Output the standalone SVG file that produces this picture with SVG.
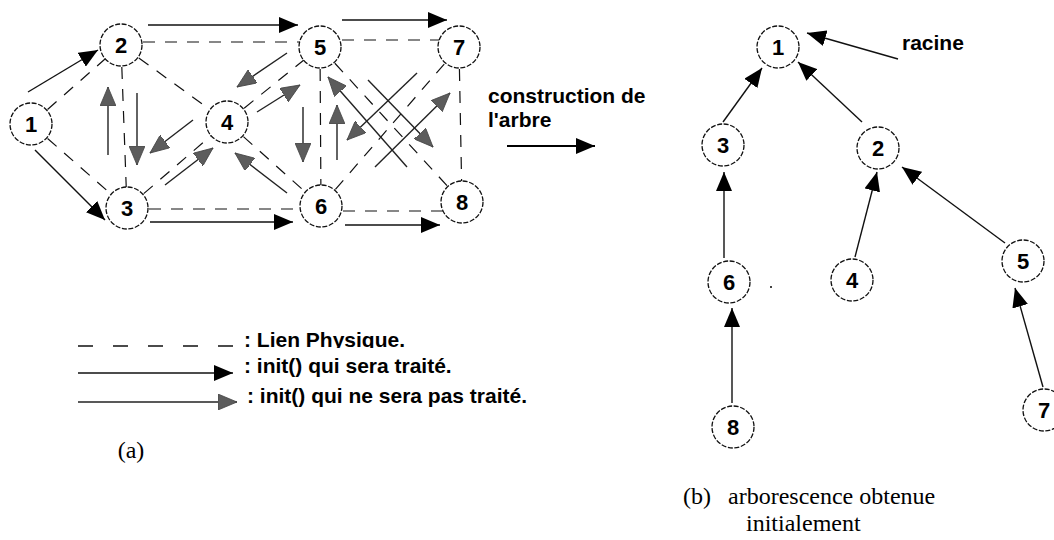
<svg xmlns="http://www.w3.org/2000/svg" width="1054" height="540" viewBox="0 0 1054 540">
  <style>
    .link { stroke: #111; stroke-width: 1.2; stroke-dasharray: 12 10; fill: none; }
    .node circle { fill: #fff; stroke: #111; stroke-width: 1.3; stroke-dasharray: 5 1.6; }
    .node text { font-family: "Liberation Sans", Arial, sans-serif; font-weight: bold; font-size: 22px; text-anchor: middle; fill: #000; }
    .go { stroke: #111; stroke-width: 1.4; fill: none; marker-end: url(#headBlack); }
    .stop { stroke: #222; stroke-width: 1.4; fill: none; marker-end: url(#headGray); }
    .lbl { font-family: "Liberation Sans", Arial, sans-serif; font-weight: bold; font-size: 21px; fill: #000; }
    .cap { font-family: "Liberation Serif", "Times New Roman", serif; font-size: 24px; fill: #000; }
  </style>
  <defs>
    <marker id="headBlack" markerUnits="userSpaceOnUse" markerWidth="20" markerHeight="16" refX="19" refY="8" orient="auto">
      <path d="M0,0 L19,8 L0,16 z" fill="#000"/>
    </marker>
    <marker id="headGray" markerUnits="userSpaceOnUse" markerWidth="20" markerHeight="16" refX="19" refY="8" orient="auto">
      <path d="M0,0 L19,8 L0,16 z" fill="#5c5c5c" stroke="#444" stroke-width="0.8"/>
    </marker>
    <!-- descenders of the first legend line are cut at the baseline -->
    <clipPath id="cutBaseline">
      <rect x="230" y="320" width="300" height="28"/>
    </clipPath>
  </defs>

  <!-- (a) physical network: dashed links -->
  <g id="links">
    <line class="link" x1="31" y1="124" x2="121" y2="45"/>
    <line class="link" x1="31" y1="124" x2="127" y2="208"/>
    <line class="link" x1="121" y1="45" x2="127" y2="208"/>
    <line class="link" x1="121" y1="45" x2="227" y2="122"/>
    <line class="link" x1="121" y1="42" x2="320" y2="42"/>
    <line class="link" x1="127" y1="208" x2="227" y2="122"/>
    <line class="link" x1="127" y1="209" x2="321" y2="209"/>
    <line class="link" x1="227" y1="122" x2="320" y2="47"/>
    <line class="link" x1="227" y1="122" x2="321" y2="206"/>
    <line class="link" x1="320" y1="47" x2="321" y2="206"/>
    <line class="link" x1="320" y1="40" x2="459" y2="40"/>
    <line class="link" x1="320" y1="47" x2="462" y2="202"/>
    <line class="link" x1="321" y1="206" x2="459" y2="47"/>
    <line class="link" x1="459" y1="47" x2="462" y2="202"/>
    <line class="link" x1="321" y1="211" x2="462" y2="211"/>
  </g>

  <!-- (a) init() messages -->
  <g id="messages">
    <line class="go" x1="28" y1="92" x2="98" y2="50"/>
    <line class="go" x1="35" y1="150" x2="105" y2="220"/>
    <line class="go" x1="148" y1="25" x2="298" y2="25"/>
    <line class="go" x1="342" y1="20" x2="447" y2="20"/>
    <line class="go" x1="150" y1="222" x2="293" y2="222"/>
    <line class="go" x1="345" y1="225" x2="440" y2="225"/>
    <line class="stop" x1="137" y1="93" x2="137" y2="165"/>
    <line class="stop" x1="108" y1="155" x2="108" y2="87"/>
    <line class="stop" x1="193" y1="120" x2="150" y2="153"/>
    <line class="stop" x1="165" y1="185" x2="213" y2="148"/>
    <line class="stop" x1="257" y1="112" x2="300" y2="85"/>
    <line class="stop" x1="287" y1="53" x2="237" y2="87"/>
    <line class="stop" x1="287" y1="193" x2="235" y2="153"/>
    <line class="stop" x1="303" y1="107" x2="303" y2="162"/>
    <line class="stop" x1="337" y1="160" x2="337" y2="105"/>
    <line class="stop" x1="417" y1="73" x2="347" y2="140"/>
    <line class="stop" x1="375" y1="167" x2="450" y2="93"/>
    <line class="stop" x1="368" y1="80" x2="433" y2="147"/>
    <line class="stop" x1="407" y1="167" x2="328" y2="77"/>
  </g>

  <!-- (a) nodes -->
  <g id="a1" class="node"><circle cx="31" cy="124" r="21"/><text x="31" y="132">1</text></g>
  <g id="a2" class="node"><circle cx="121" cy="45" r="21"/><text x="121" y="53">2</text></g>
  <g id="a3" class="node"><circle cx="127" cy="208" r="21"/><text x="127" y="216">3</text></g>
  <g id="a4" class="node"><circle cx="227" cy="122" r="21"/><text x="227" y="130">4</text></g>
  <g id="a5" class="node"><circle cx="320" cy="47" r="21"/><text x="320" y="55">5</text></g>
  <g id="a6" class="node"><circle cx="321" cy="206" r="21"/><text x="321" y="214">6</text></g>
  <g id="a7" class="node"><circle cx="459" cy="47" r="21"/><text x="459" y="55">7</text></g>
  <g id="a8" class="node"><circle cx="462" cy="202" r="21"/><text x="462" y="210">8</text></g>

  <!-- construction step -->
  <text class="lbl" x="488" y="103">construction de</text>
  <text class="lbl" x="488" y="127">l'arbre</text>
  <line x1="507" y1="146" x2="595" y2="146" stroke="#000" stroke-width="2.2" marker-end="url(#headBlack)"/>

  <!-- legend -->
  <g id="legend">
    <line x1="78" y1="346" x2="233" y2="346" stroke="#111" stroke-width="1.3" stroke-dasharray="15 20"/>
    <text class="lbl" x="244" y="347" clip-path="url(#cutBaseline)">: Lien Physique.</text>
    <line class="go" x1="78" y1="373" x2="233" y2="373"/>
    <text class="lbl" x="244" y="373">: init() qui sera traité.</text>
    <line class="stop" x1="78" y1="402" x2="237" y2="402"/>
    <text class="lbl" x="247" y="403">: init() qui ne sera pas traité.</text>
  </g>
  <text class="cap" x="131" y="458" text-anchor="middle">(a)</text>

  <!-- (b) spanning tree: edges -->
  <g id="tree-edges">
    <line class="go" x1="723" y1="122" x2="762" y2="68"/>
    <line class="go" x1="862" y1="122" x2="798" y2="62"/>
    <line class="go" x1="898" y1="59" x2="807" y2="33"/>
    <line class="go" x1="724" y1="258" x2="724" y2="172"/>
    <line class="go" x1="855" y1="257" x2="877" y2="172"/>
    <line class="go" x1="1005" y1="243" x2="902" y2="167"/>
    <line class="go" x1="732" y1="403" x2="732" y2="308"/>
    <line class="go" x1="1043" y1="387" x2="1015" y2="288"/>
  </g>

  <!-- (b) nodes -->
  <g id="b1" class="node"><circle cx="778" cy="47" r="21"/><text x="778" y="55">1</text></g>
  <g id="b3" class="node"><circle cx="723" cy="145" r="21"/><text x="723" y="153">3</text></g>
  <g id="b2" class="node"><circle cx="878" cy="148" r="21"/><text x="878" y="156">2</text></g>
  <g id="b6" class="node"><circle cx="729" cy="282" r="21"/><text x="729" y="290">6</text></g>
  <g id="b4" class="node"><circle cx="852" cy="280" r="21"/><text x="852" y="288">4</text></g>
  <g id="b5" class="node"><circle cx="1023" cy="261" r="21"/><text x="1023" y="269">5</text></g>
  <g id="b7" class="node"><circle cx="1044" cy="410" r="21"/><text x="1044" y="418">7</text></g>
  <g id="b8" class="node"><circle cx="733" cy="427" r="21"/><text x="733" y="435">8</text></g>

  <text class="lbl" x="902" y="50">racine</text>
  <rect x="770" y="286" width="2" height="2" fill="#444"/>

  <text class="cap" x="683" y="504">(b)</text>
  <text class="cap" x="728" y="504">arborescence obtenue</text>
  <text class="cap" x="746" y="531">initialement</text>
</svg>
